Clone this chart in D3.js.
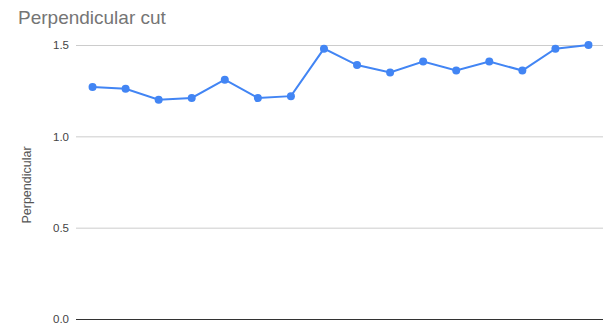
<!DOCTYPE html>
<html lang="en">
<head>
<meta charset="utf-8">
<title>Perpendicular cut</title>
<script src="https://cdn.jsdelivr.net/npm/d3@7"></script>
<style>
  body { margin: 0; background: #fff; }
  svg { display: block; font-family: Arial, "Liberation Sans", sans-serif; }
</style>
</head>
<body>
<script>
// data
var categories = d3.range(1, 17);
var values = [1.27, 1.26, 1.20, 1.21, 1.31, 1.21, 1.22, 1.48,
              1.39, 1.35, 1.41, 1.36, 1.41, 1.36, 1.48, 1.50];
var yTicks = [0, 0.5, 1.0, 1.5];

var w = 603, h = 323;
var plotLeft = 76, plotRight = 605, plotTop = 45, plotBottom = 319;

var svg = d3.select("body").append("svg")
  .attr("width", w)
  .attr("height", h);

var x = d3.scalePoint()
  .domain(categories)
  .range([plotLeft, plotRight])
  .padding(0.5);

var y = d3.scaleLinear()
  .domain([0, 1.5])
  .range([plotBottom, plotTop]);

// gridlines + tick labels
var yAxis = d3.axisLeft(y)
  .tickValues(yTicks)
  .tickFormat(d3.format(".1f"))
  .tickSize(-(plotRight - plotLeft))
  .tickPadding(7);

var g = svg.append("g")
  .attr("transform", "translate(" + plotLeft + ",0)")
  .call(yAxis);
g.select(".domain").remove();
g.selectAll(".tick line")
  .attr("stroke", function(d) { return d === 0 ? "#333" : "#ccc"; })
  .attr("stroke-width", 1);
g.selectAll(".tick text")
  .attr("fill", "#444")
  .attr("font-size", "11.5px");

// line
var line = d3.line()
  .x(function(d, i) { return x(categories[i]); })
  .y(function(d) { return y(d); });

svg.append("path")
  .datum(values)
  .attr("fill", "none")
  .attr("stroke", "#4285f4")
  .attr("stroke-width", 2)
  .attr("d", line);

svg.selectAll("circle")
  .data(values)
  .enter()
  .append("circle")
  .attr("cx", function(d, i) { return x(categories[i]); })
  .attr("cy", function(d) { return y(d); })
  .attr("r", 4)
  .attr("fill", "#4285f4");

// title
svg.append("text")
  .attr("x", 18)
  .attr("y", 24)
  .attr("font-size", "19px")
  .attr("fill", "#757575")
  .text("Perpendicular cut");

// y axis title
svg.append("text")
  .attr("transform", "translate(31,185) rotate(-90)")
  .attr("text-anchor", "middle")
  .attr("font-size", "12.5px")
  .attr("fill", "#555")
  .text("Perpendicular");
</script>
</body>
</html>
